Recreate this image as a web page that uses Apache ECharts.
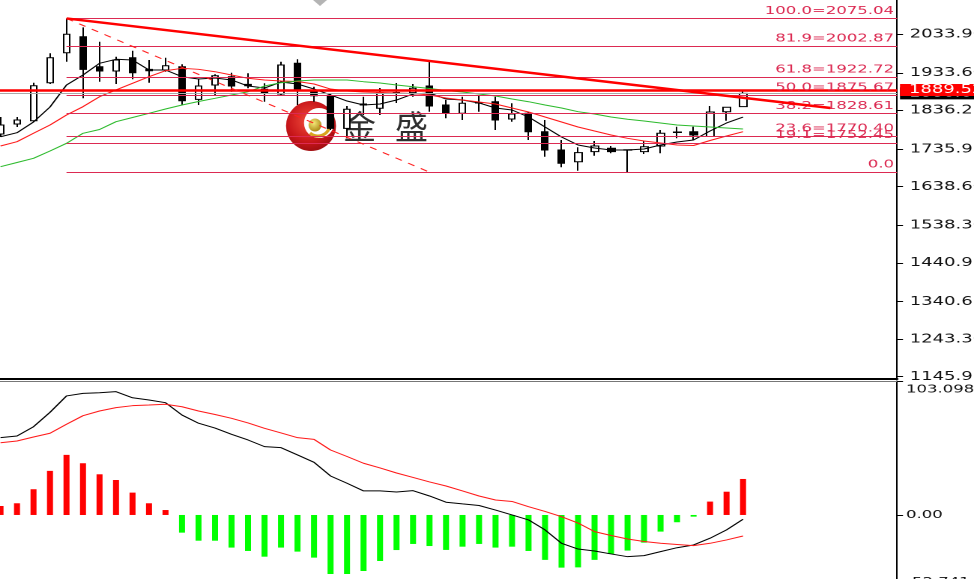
<!DOCTYPE html>
<html>
<head>
<meta charset="utf-8">
<script src="https://cdn.jsdelivr.net/npm/echarts@6/dist/echarts.min.js"></script>
<style>
html,body{margin:0;padding:0;background:#fff;overflow:hidden;}
#wrap{width:974px;height:579px;overflow:hidden;position:relative;background:#fff;}
#c{width:650px;height:579px;transform:scaleX(1.49846);transform-origin:0 0;}
</style>
</head>
<body>
<div id="wrap"><div id="c"></div></div>
<script>
// ---------- data ----------
const opens  = [1775.4,1801.3,1809.8,1908.4,1986.2,2027.7,1949.9,1938.7,1973.2,1943.1,1941.3,1949.9,1865.3,1902.4,1923.9,1904.2,1891.3,1879.1,1958.7,1889.5,1873.9,1790.1,1853.2,1842.0,1883.0,1882.5,1899.8,1850.6,1829.0,1857.1,1859.1,1814.3,1829.0,1781.3,1733.9,1703.5,1729.5,1738.3,1734.4,1729.5,1744.2,1780.5,1781.3,1768.9,1833.2,1846.2];
const closes = [1798.7,1811.7,1900.6,1973.2,2033.9,1943.1,1938.7,1967.3,1934.3,1939.5,1952.5,1861.7,1899.8,1926.5,1899.8,1900.6,1880.9,1954.3,1887.7,1874.7,1790.1,1839.4,1850.6,1882.5,1881.7,1893.9,1848.0,1829.0,1855.0,1855.8,1811.7,1827.2,1781.3,1733.9,1699.4,1726.9,1744.2,1729.5,1733.4,1742.4,1777.2,1779.2,1772.8,1832.4,1844.6,1880.6];
const lows   = [1767.6,1793.5,1807.2,1905.0,1962.8,1867.9,1911.0,1905.0,1917.2,1908.4,1936.9,1850.6,1850.6,1873.9,1885.0,1893.9,1859.1,1874.7,1850.6,1859.1,1785.7,1764.2,1824.6,1824.6,1855.8,1872.1,1833.2,1816.1,1811.7,1833.2,1785.7,1807.2,1759.8,1716.5,1689.0,1680.2,1719.1,1725.3,1676.3,1723.5,1725.3,1764.2,1759.8,1767.6,1809.8,1845.4];
const highs  = [1819.4,1819.4,1908.4,1984.6,2075.04,2052.0,2014.7,1975.8,1991.4,1967.3,1973.2,1956.1,1917.2,1930.2,1934.3,1932.8,1906.8,1962.8,1969.1,1898.0,1879.1,1848.0,1872.1,1894.6,1907.6,1905.0,1962.8,1863.5,1872.1,1876.5,1872.1,1855.0,1833.2,1811.7,1759.8,1740.9,1757.2,1744.2,1735.7,1757.2,1785.7,1794.3,1794.3,1848.0,1845.4,1887.7];

const maFast = [1768.3,1778.7,1806.5,1845.4,1902.4,1928.4,1958.7,1969.1,1967.3,1941.3,1941.3,1923.9,1918.0,1920.6,1915.4,1899.8,1894.6,1910.2,1905.0,1892.0,1876.5,1860.9,1850.6,1853.2,1863.5,1879.1,1881.7,1866.1,1863.5,1855.8,1842.8,1837.6,1819.4,1793.5,1767.6,1746.8,1739.1,1733.9,1733.9,1736.5,1746.8,1754.6,1759.8,1783.1,1803.9,1819.4];
const maMid  = [1744.2,1755.4,1777.2,1798.7,1824.6,1846.2,1872.1,1889.5,1906.8,1923.9,1939.5,1945.7,1943.1,1936.9,1928.4,1919.8,1915.4,1912.8,1911.5,1905.0,1892.0,1886.9,1884.3,1883.0,1881.7,1880.4,1876.5,1868.7,1863.5,1858.3,1853.2,1842.8,1832.4,1819.4,1806.5,1793.5,1783.1,1772.8,1764.2,1757.2,1752.0,1746.8,1745.5,1758.5,1770.2,1781.3];
const maSlow = [1690.6,1701.5,1712.3,1731.3,1751.2,1777.2,1787.0,1807.2,1818.1,1829.0,1840.2,1850.6,1859.6,1867.9,1876.5,1885.0,1899.8,1908.4,1912.8,1915.4,1915.4,1915.4,1911.0,1907.6,1902.4,1898.0,1893.3,1888.2,1884.3,1879.1,1873.9,1866.1,1859.1,1850.6,1842.8,1833.2,1827.2,1819.4,1813.5,1809.0,1803.9,1798.7,1796.1,1793.5,1790.9,1788.3];

const macdHist   = [6.9,9.0,19.8,33.9,46.2,39.8,31.3,26.9,17.2,9.0,3.8,-13.6,-19.8,-19.8,-25.1,-27.7,-32.1,-25.1,-28.2,-32.8,-45.4,-45.4,-43.1,-35.4,-27.0,-22.3,-23.9,-26.9,-24.4,-22.3,-25.1,-24.4,-27.7,-34.6,-40.5,-40.3,-34.6,-30.0,-27.4,-21.3,-12.8,-5.6,-1.3,10.3,17.9,27.7];
const macdLine   = [59.5,60.8,67.9,79.0,91.6,93.6,94.1,94.9,90.2,88.5,86.4,76.9,70.6,66.9,62.1,57.7,52.6,51.8,46.2,40.5,30.0,24.4,18.5,18.5,17.7,18.7,14.6,9.8,8.5,7.3,3.8,0.0,-3.8,-11.5,-21.8,-26.2,-27.7,-30.0,-32.1,-31.3,-28.2,-25.2,-23.1,-17.9,-11.5,-3.3];
const signalLine = [55.6,56.9,60.0,62.9,69.8,76.4,80.0,82.6,84.1,84.6,85.2,83.3,80.0,77.3,74.4,70.8,66.7,63.1,59.5,58.2,50.0,45.0,39.8,36.2,32.3,28.9,25.4,22.3,18.5,14.6,11.5,10.4,6.4,2.7,-1.3,-6.2,-12.8,-15.8,-18.5,-20.4,-21.8,-22.7,-23.6,-21.8,-19.2,-16.2];

const priceTicks = [2033.90,1933.60,1836.25,1735.95,1638.60,1538.30,1440.95,1340.65,1243.30,1145.95];
const macdTicks  = [103.098, 0, -52.741];
const macdTickLabels = ['103.098','0.00','-52.741'];

const fibNames  = ['100.0','81.9','61.8','50.0','38.2','23.6','19.1','0.0'];
const fibLevels = [2075.04,2002.87,1922.72,1875.67,1828.61,1770.40,1752.45,1676.30];
const fibStartBar = 4;

const trendLine  = [[4,2075.04],[50.3,1842.8]];
const dashedLine = [[4,2075.04],[26.0,1676.3]];
const priceMark  = 1889.52;
const bidPrice   = closes[closes.length-1];

// ---------- layout ----------
const K = 974/650;
const axisXpx = 897;
const gridRight = 650 - axisXpx / K;
const xMin = -0.03, xMax = 54.33;
const FONT = 'DejaVu Sans';
const FIB_COLOR = '#dc2a52';

const idx = closes.map((_, i) => i);
const candleData = idx.map(i => [i, opens[i], closes[i], lows[i], highs[i]]);
const pairs = arr => arr.map((v, i) => [i, v]);

const fibMarks = fibLevels.map((lv, k) => [
  { coord: [fibStartBar, lv], label: { formatter: k === fibLevels.length - 1 ? fibNames[k] : fibNames[k] + '=' + lv.toFixed(2) } },
  { coord: [xMax, lv] }
]);

const chart = echarts.init(document.getElementById('c'), null, { renderer: 'canvas', devicePixelRatio: 2 });

const hideAxisBits = { axisTick: { show: false }, axisLabel: { show: false }, splitLine: { show: false } };

chart.setOption({
  animation: false,
  backgroundColor: '#fff',
  grid: [
    { left: 0, right: gridRight, top: 0, height: 379, containLabel: false, outerBoundsMode: 'none' },
    { left: 0, right: gridRight, top: 381, height: 202.5, containLabel: false, outerBoundsMode: 'none' }
  ],
  xAxis: [
    Object.assign({ type: 'value', gridIndex: 0, min: xMin, max: xMax,
      axisLine: { show: true, onZero: false, lineStyle: { color: '#000', width: 2 } } }, hideAxisBits),
    Object.assign({ type: 'value', gridIndex: 1, position: 'top', min: xMin, max: xMax,
      axisLine: { show: true, onZero: false, lineStyle: { color: '#777', width: 1 } } }, hideAxisBits)
  ],
  yAxis: [
    { type: 'value', gridIndex: 0, position: 'right', min: 1140.0, max: 2122.85,
      axisLine: { show: true, onZero: false, lineStyle: { color: '#000', width: 1 } },
      axisTick: { show: true, length: 4, customValues: priceTicks, lineStyle: { color: '#000' } },
      axisLabel: { customValues: priceTicks, formatter: v => v.toFixed(2), color: '#111', fontSize: 12, fontFamily: FONT, margin: 8.5 },
      splitLine: { show: false } },
    { type: 'value', gridIndex: 1, position: 'right', min: -52.741, max: 103.098,
      axisLine: { show: true, onZero: false, lineStyle: { color: '#000', width: 1 } },
      axisTick: { show: true, length: 4, customValues: macdTicks, lineStyle: { color: '#000' } },
      axisLabel: { customValues: macdTicks, color: '#111', fontSize: 11, fontFamily: FONT, margin: 6,
        formatter: v => {
          let best = 0;
          macdTicks.forEach((t, k) => { if (Math.abs(t - v) < Math.abs(macdTicks[best] - v)) best = k; });
          const s = macdTickLabels[best];
          if (best === 0) return '{top|' + s + '}';
          if (best === macdTicks.length - 1) return '{bot|' + s + '}';
          return s;
        },
        rich: {
          top: { padding: [17, 0, 0, 0], fontSize: 11, fontFamily: FONT, color: '#111' },
          bot: { padding: [0, 0, 3, 0], fontSize: 11, fontFamily: FONT, color: '#111' }
        } },
      splitLine: { show: false } }
  ],
  graphic: [
    { type: 'group', x: 0, y: 0, scaleX: 1 / K, z: 0, silent: true, children: [
      { type: 'polygon', shape: { points: [[313, 0], [327, 0], [320, 6]] }, style: { fill: '#b4b4b4' } },
      { type: 'circle', shape: { cx: 311, cy: 126, r: 25 },
        style: { fill: new echarts.graphic.RadialGradient(0.45, 0.4, 0.7, [
          { offset: 0, color: '#f04a3a' }, { offset: 0.6, color: '#c8161a' }, { offset: 1, color: '#8e0a0c' }]) } },
      { type: 'circle', shape: { cx: 319, cy: 123, r: 15 }, style: { fill: '#fff' } },
      { type: 'arc', shape: { cx: 318, cy: 124, r: 12, startAngle: -0.6, endAngle: 2.3 },
        style: { stroke: '#d8a41e', lineWidth: 3, fill: 'none' } },
      { type: 'circle', shape: { cx: 315, cy: 125, r: 6.5 },
        style: { fill: new echarts.graphic.RadialGradient(0.4, 0.35, 0.7, [
          { offset: 0, color: '#f6ea7a' }, { offset: 1, color: '#a88410' }]) } },
      { type: 'text', x: 343, y: 110, style: { text: '金', fontSize: 33, fontFamily: 'Noto Sans CJK SC', fill: '#2e2e2e' } },
      { type: 'text', x: 395, y: 110, style: { text: '盛', fontSize: 33, fontFamily: 'Noto Sans CJK SC', fill: '#2e2e2e' } }
    ] }
  ],
  series: [
    { type: 'candlestick', name: 'price', xAxisIndex: 0, yAxisIndex: 0, z: 3, barWidth: 5,
      data: candleData,
      itemStyle: { color: '#fff', color0: '#000', borderColor: '#000', borderColor0: '#000', borderWidth: 1 },
      markLine: { silent: true, symbol: ['none', 'none'], animation: false,
        data: [{ yAxis: bidPrice, lineStyle: { color: '#a8a8a8', width: 1, type: 'solid' },
          label: { show: true, position: 'end', distance: 2, formatter: bidPrice.toFixed(2), backgroundColor: '#000', color: '#fff',
            padding: [0, 3, 0, 6], lineHeight: 12, fontSize: 12, fontFamily: FONT } }] } },
    { type: 'line', name: 'MA fast', xAxisIndex: 0, yAxisIndex: 0, z: 4, data: pairs(maFast), symbol: 'none',
      lineStyle: { color: '#000', width: 1 } },
    { type: 'line', name: 'MA mid', xAxisIndex: 0, yAxisIndex: 0, z: 4, data: pairs(maMid), symbol: 'none',
      lineStyle: { color: '#ff1a1a', width: 1 } },
    { type: 'line', name: 'MA slow', xAxisIndex: 0, yAxisIndex: 0, z: 4, data: pairs(maSlow), symbol: 'none',
      lineStyle: { color: '#2dbb2d', width: 1 } },
    { type: 'line', name: 'dashed', xAxisIndex: 0, yAxisIndex: 0, z: 5, data: dashedLine, symbol: 'none',
      lineStyle: { color: '#ff2020', width: 1, type: [5, 5] } },
    { type: 'line', name: 'trend', xAxisIndex: 0, yAxisIndex: 0, z: 6, data: trendLine, symbol: 'none',
      lineStyle: { color: '#ff0000', width: 2.5 },
      markLine: { silent: true, symbol: ['none', 'none'], animation: false,
        lineStyle: { color: FIB_COLOR, width: 1, type: 'solid' },
        label: { show: true, position: 'insideEndTop', distance: 2, color: FIB_COLOR, fontSize: 11, fontFamily: FONT },
        data: fibMarks.concat([{ yAxis: priceMark, lineStyle: { color: '#ff0000', width: 2.5, type: 'solid' },
          label: { show: true, position: 'end', distance: 2, formatter: priceMark.toFixed(2), backgroundColor: '#ff0000', color: '#fff',
            padding: [0, 3, 0, 6], lineHeight: 12, fontSize: 12, fontFamily: FONT } }]) } },
    { type: 'bar', name: 'MACD hist', xAxisIndex: 1, yAxisIndex: 1, barWidth: 4, data: pairs(macdHist),
      itemStyle: { color: p => (p.value[1] >= 0 ? '#ff0000' : '#00ff00') } },
    { type: 'line', name: 'MACD', xAxisIndex: 1, yAxisIndex: 1, data: pairs(macdLine), symbol: 'none',
      lineStyle: { color: '#000', width: 1 } },
    { type: 'line', name: 'Signal', xAxisIndex: 1, yAxisIndex: 1, data: pairs(signalLine), symbol: 'none',
      lineStyle: { color: '#ff1a1a', width: 1 } }
  ]
});
</script>
</body>
</html>
